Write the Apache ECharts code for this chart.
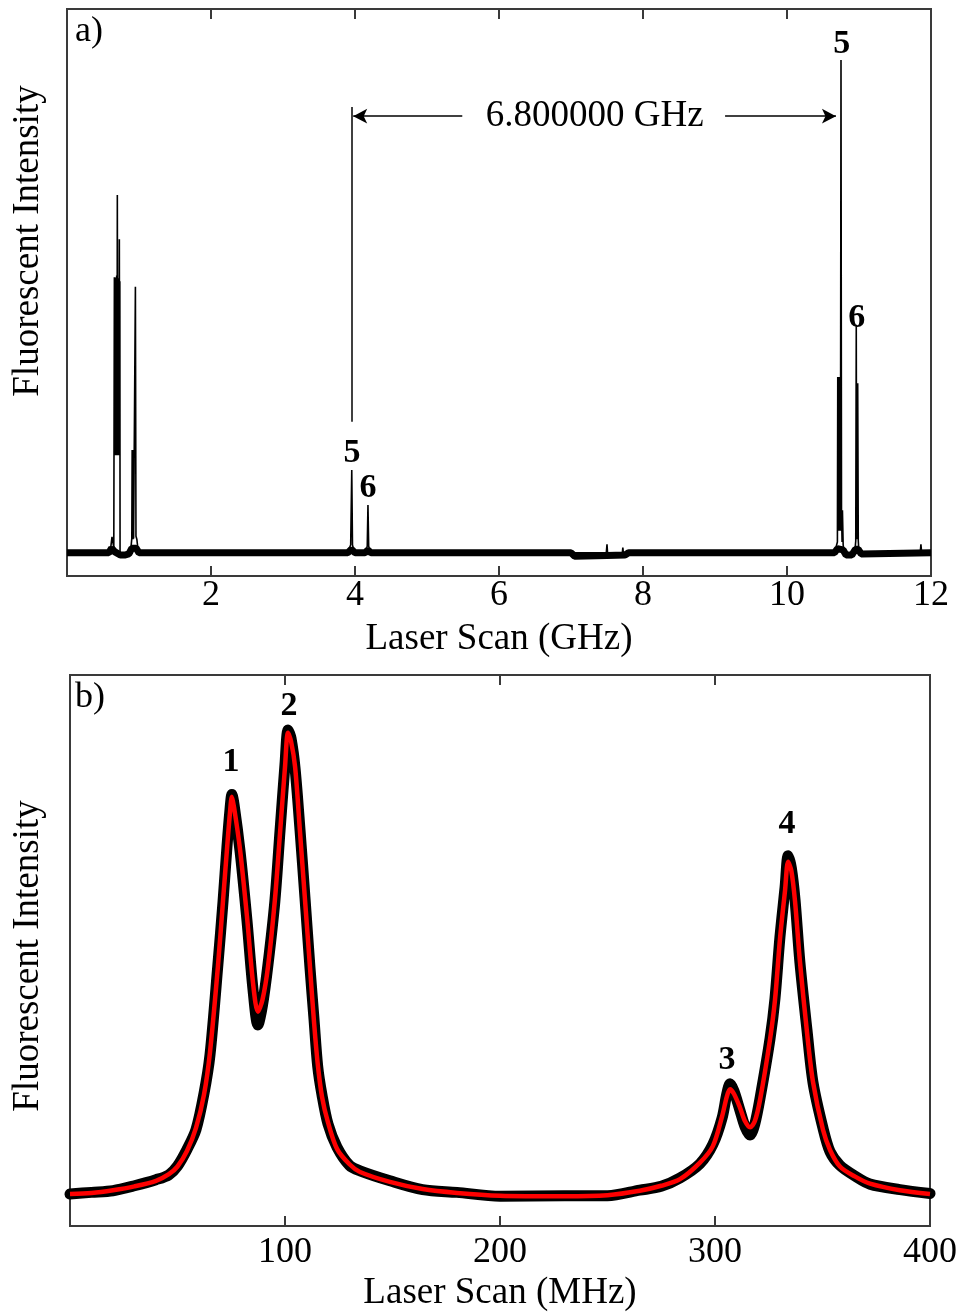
<!DOCTYPE html>
<html><head><meta charset="utf-8">
<script src="https://cdn.jsdelivr.net/npm/echarts@6/dist/echarts.min.js"></script>
<style>html,body{margin:0;padding:0;background:#fff}#c{width:960px;height:1313px}</style>
</head><body><div id="c"></div>
<script>
// ---------- Panel a: Laser Scan (GHz) ----------
const ticksA = [0, 2, 4, 6, 8, 10, 12];
// noise band of the baseline (centre values)
const baselineA = [[0,4.1],[0.58,4.1],[0.62,4.9],[0.66,4.3],[0.74,3.7],[0.80,3.7],[0.86,3.9],[0.90,4.9],[0.96,4.9],[1.0,4.1],[3.90,4.1],[3.95,4.7],[4.0,4.1],[4.14,4.1],[4.18,4.6],[4.22,4.1],[7.0,4.1],[7.05,3.5],[7.5,3.6],[7.75,3.7],[7.8,4.1],[10.66,4.1],[10.70,4.8],[10.78,4.6],[10.82,3.7],[10.9,3.7],[10.95,4.7],[10.99,4.7],[11.03,3.9],[12,4.1]];
// spectrum trace (thin)
const spectrumA = [[0,4.1],[0.60,4.2],[0.625,6.9],[0.65,5.0],[0.655,5.0],[0.658,52.7],[0.662,21.3],[0.666,52.7],[0.670,21.3],[0.674,52.5],[0.678,21.3],[0.682,52.5],[0.686,21.3],[0.690,53.0],[0.694,21.3],[0.699,67.2],[0.704,21.3],[0.710,52.5],[0.714,21.3],[0.718,52.5],[0.722,21.3],[0.727,59.4],[0.731,21.3],[0.734,52.0],[0.737,4.0],[0.75,3.6],[0.88,3.9],[0.90,6.6],[0.905,22.2],[0.909,6.5],[0.913,22.2],[0.917,6.5],[0.921,22.2],[0.925,6.6],[0.95,51.0],[0.958,7.0],[0.97,6.5],[0.99,4.2],[3.90,4.1],[3.94,5.5],[3.955,18.7],[3.965,5.5],[3.99,4.1],[4.15,4.1],[4.17,5.3],[4.18,12.5],[4.19,5.3],[4.21,4.1],[7.49,4.1],[7.5,5.6],[7.51,3.6],[7.71,3.7],[7.72,5.0],[7.73,3.7],[10.66,4.1],[10.70,6.0],[10.705,35.1],[10.712,8.0],[10.72,35.1],[10.728,8.0],[10.735,35.1],[10.742,8.0],[10.75,91.0],[10.757,11.6],[10.765,6.0],[10.77,11.6],[10.78,5.5],[10.80,3.6],[10.94,4.0],[10.955,6.2],[10.962,44.3],[10.967,6.5],[10.972,34.0],[10.977,6.5],[10.982,34.0],[10.99,6.2],[11.0,4.0],[11.85,4.1],[11.86,5.6],[11.87,4.1],[12,4.1]];
const peakLabelsA = [{name:'5', coord:[3.96,21.7]},{name:'6', coord:[4.18,15.5]},{name:'5', coord:[10.76,93.8]},{name:'6', coord:[10.97,45.5]}];
const spacingText = '6.800000 GHz';
const spacingTextPos = [7.33, 81.1];
const refLine = [[3.96,27.2],[3.96,82.7]];
const arrowLeft = [[5.49,81.1],[3.975,81.1]];
const arrowRight = [[9.14,81.1],[10.68,81.1]];

// ---------- Panel b: Laser Scan (MHz) ----------
const ticksB = [0, 100, 200, 300, 400];
const fitB = [[0,5.8],[10,6.0],[20,6.5],[30,7.2],[40,8.2],[46,9.4],[50,10.8],[54.4,13.6],[58.6,17.8],[62.3,23.8],[65.1,31.5],[68.8,47.1],[71.2,59.2],[73.0,68.3],[74.4,75.0],[75.3,77.9],[76.3,76.0],[79.1,68.3],[82.3,56.2],[85.1,44.2],[87.4,38.9],[89.5,41.0],[92.1,47.1],[95.3,59.2],[97.7,71.4],[100,83.3],[101.4,89.5],[102.8,88.0],[104.7,83.3],[107,71.4],[109.3,59.2],[111.6,47.1],[113.5,37.0],[115.2,29.5],[117.2,23.5],[120,18.8],[124.2,14.0],[130,11.2],[134.9,9.8],[148.8,8.0],[164,6.7],[180,6.0],[200,5.5],[230,5.4],[250,5.6],[265,6.4],[275,7.3],[283.7,8.5],[293,11.5],[299,14.5],[303.3,19.9],[305.5,23.5],[307,24.8],[308.8,24.0],[311.6,21.5],[314,19.0],[316.3,17.9],[318.5,19.0],[321,23.0],[325.6,33.9],[327.9,41.0],[330.2,52.0],[332.6,61.0],[334,66.1],[335.5,64.5],[337.2,59.0],[339.5,48.0],[342.8,35.1],[345.6,26.1],[350.2,17.5],[353.5,13.8],[358.1,10.8],[365,9.0],[372.1,7.7],[386,6.5],[400,5.8]];
const measuredB = [[0,5.8],[10,6.1],[20,6.4],[30,7.3],[40,8.4],[46,9.3],[50,10.9],[54.4,13.9],[58.6,17.5],[62.3,24.0],[65.1,31.0],[68.8,47.5],[71.2,59.0],[73.0,68.8],[74.4,75.5],[75.3,78.3],[76.3,76.5],[79.1,68.0],[82.3,55.5],[85.1,43.0],[87.4,36.5],[89.5,40.0],[92.1,47.5],[95.3,59.0],[97.7,71.8],[100,83.8],[101.4,90.0],[102.8,88.5],[104.7,83.0],[107,71.8],[109.3,59.5],[111.6,47.0],[113.5,37.5],[115.2,29.0],[117.2,23.8],[120,18.5],[124.2,14.3],[130,11.0],[134.9,10.0],[148.8,8.2],[164,6.6],[180,6.1],[200,5.4],[230,5.5],[250,5.5],[265,6.5],[275,7.2],[283.7,8.7],[293,11.3],[299,14.8],[303.3,19.6],[305.5,24.0],[307,25.8],[308.8,24.5],[311.6,21.0],[314,18.0],[316.3,16.5],[318.5,18.5],[321,23.3],[325.6,34.0],[327.9,41.3],[330.2,52.4],[332.6,61.5],[334,67.2],[335.5,65.0],[337.2,59.3],[339.5,47.8],[342.8,35.5],[345.6,26.0],[350.2,17.8],[353.5,13.5],[358.1,11.0],[365,9.1],[372.1,7.6],[386,6.6],[400,5.9]];
const peakLabelsB = [{name:'1', coord:[74.9,84.1]},{name:'2', coord:[101.9,94.4]},{name:'3', coord:[305.6,30.1]},{name:'4', coord:[333.5,73.0]}];

const FONT = '"Liberation Serif", "Times New Roman", serif';
const frame = '#3a3a3a';

function xAxes(grid, min, max, interval, name, gap, margin) {
  const common = {gridIndex: grid, type: 'value', min, max, interval,
    axisLine: {show: false}, splitLine: {show: false},
    axisTick: {show: true, inside: true, length: 10, lineStyle: {color: frame, width: 2}}};
  return [
    Object.assign({}, common, {position: 'bottom',
      axisLabel: {show: true, margin, color: '#000', fontFamily: FONT, fontSize: 36, showMinLabel: false,
        formatter: v => (v === min ? '' : String(v))},
      name, nameLocation: 'middle', nameGap: gap,
      nameTextStyle: {fontFamily: FONT, fontSize: 37, color: '#000'}}),
    Object.assign({}, common, {position: 'top', axisLabel: {show: false}})
  ];
}
const yAxisCommon = {type: 'value', min: 0, max: 100, axisLine: {show: false}, axisTick: {show: false}, axisLabel: {show: false}, splitLine: {show: false}};

const labelStyle = {show: true, position: 'inside', formatter: '{b}', fontFamily: FONT, fontWeight: 'bold', fontSize: 34, color: '#000'};

const option = {
  animation: false,
  backgroundColor: '#fff',
  grid: [
    {left: 67, top: 9, width: 864, height: 567, show: true, borderColor: frame, borderWidth: 2, backgroundColor: 'transparent'},
    {left: 70, top: 675, width: 860, height: 552, show: true, borderColor: frame, borderWidth: 2, backgroundColor: 'transparent'}
  ],
  xAxis: [].concat(
    xAxes(0, ticksA[0], ticksA[ticksA.length-1], ticksA[1]-ticksA[0], 'Laser Scan (GHz)', 45, 2),
    xAxes(1, ticksB[0], ticksB[ticksB.length-1], ticksB[1]-ticksB[0], 'Laser Scan (MHz)', 49, 9)
  ),
  yAxis: [Object.assign({gridIndex: 0}, yAxisCommon), Object.assign({gridIndex: 1}, yAxisCommon)],
  graphic: [
    {type: 'text', left: 75, top: 14, style: {text: 'a)', font: '36px ' + FONT, fill: '#000'}},
    {type: 'text', left: 75, top: 680, style: {text: 'b)', font: '36px ' + FONT, fill: '#000'}},
    {type: 'text', x: 28, y: 241, rotation: Math.PI / 2,
      style: {text: 'Fluorescent Intensity', font: '37px ' + FONT, fill: '#000', align: 'center', verticalAlign: 'middle', textAlign: 'center', textVerticalAlign: 'middle'}},
    {type: 'text', x: 28, y: 956, rotation: Math.PI / 2,
      style: {text: 'Fluorescent Intensity', font: '37px ' + FONT, fill: '#000', align: 'center', verticalAlign: 'middle', textAlign: 'center', textVerticalAlign: 'middle'}}
  ],
  series: [
    {name: 'baseline', type: 'line', xAxisIndex: 0, yAxisIndex: 0, data: baselineA, showSymbol: false, symbol: 'none',
      lineStyle: {color: '#000', width: 7}, z: 2,
      markLine: {silent: true, symbol: ['none', 'none'], label: {show: false},
        lineStyle: {color: '#000', width: 1.5, type: 'solid'},
        data: [[{coord: refLine[0]}, {coord: refLine[1]}]]}},
    {name: 'spectrum', type: 'line', xAxisIndex: 0, yAxisIndex: 0, data: spectrumA, showSymbol: false, symbol: 'none',
      lineStyle: {color: '#000', width: 1.6}, z: 3,
      markLine: {silent: true, symbol: ['none', 'arrow'], symbolSize: [11, 14], label: {show: false},
        lineStyle: {color: '#000', width: 1.5, type: 'solid'},
        data: [[{coord: arrowLeft[0]}, {coord: arrowLeft[1]}], [{coord: arrowRight[0]}, {coord: arrowRight[1]}]]},
      markPoint: {silent: true, symbol: 'circle', symbolSize: 1, itemStyle: {color: 'rgba(0,0,0,0)'}, label: labelStyle,
        data: peakLabelsA.concat([
          {name: spacingText, coord: spacingTextPos, label: {fontWeight: 'normal', fontSize: 37}}
        ])}},
    {name: 'measured', type: 'line', xAxisIndex: 2, yAxisIndex: 1, data: measuredB, showSymbol: false, symbol: 'none', smooth: 0.3,
      lineStyle: {color: '#000', width: 11, join: 'round', cap: 'round'}, z: 2},
    {name: 'fit', type: 'line', xAxisIndex: 2, yAxisIndex: 1, data: fitB, showSymbol: false, symbol: 'none', smooth: 0.3,
      lineStyle: {color: '#ff0000', width: 4.5, join: 'round'}, z: 3,
      markPoint: {silent: true, symbol: 'circle', symbolSize: 1, itemStyle: {color: 'rgba(0,0,0,0)'}, label: labelStyle,
        data: peakLabelsB}}
  ]
};
const chart = echarts.init(document.getElementById('c'), null, {renderer: 'canvas'});
chart.setOption(option);
</script></body></html>
